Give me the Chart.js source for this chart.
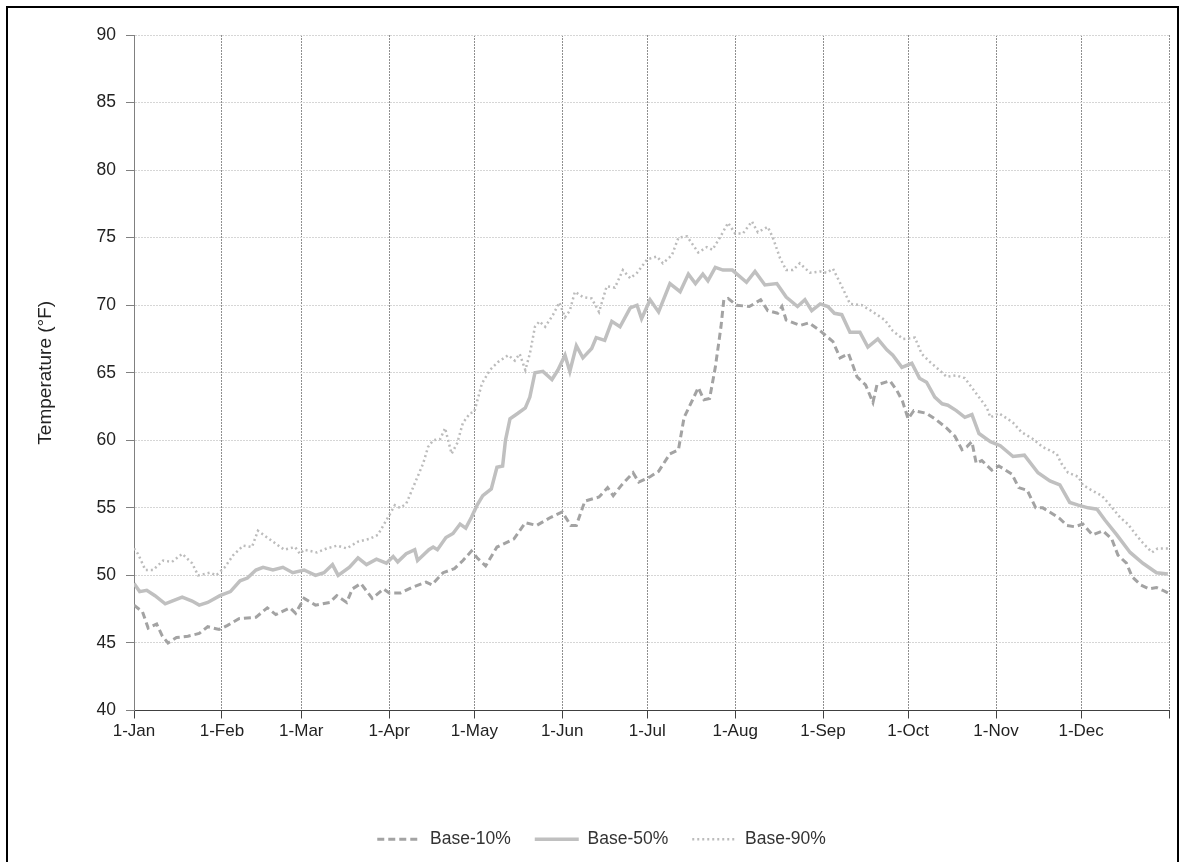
<!DOCTYPE html>
<html>
<head>
<meta charset="utf-8">
<script src="https://cdn.jsdelivr.net/npm/chart.js@4.4.1/dist/chart.umd.min.js"></script>
<style>
  html, body { margin: 0; padding: 0; background: #fff; }
  #wrap { position: relative; width: 1183px; height: 862px; overflow: hidden; }
  #frame { position: absolute; left: 6px; top: 6px; width: 1173px; height: 900px; border: 2px solid #000; box-sizing: border-box; pointer-events: none; }
  canvas { position: absolute; left: 0; top: 0; }
</style>
</head>
<body>
<div id="wrap">
  <canvas id="tempChart" width="1183" height="862"></canvas>
  <div id="frame"></div>
</div>
<script>
// month ticks (day of year)
var monthStarts = [0, 31, 59, 90, 120, 151, 181, 212, 243, 273, 304, 334, 365];
var monthLabels = ['1-Jan', '1-Feb', '1-Mar', '1-Apr', '1-May', '1-Jun', '1-Jul', '1-Aug', '1-Sep', '1-Oct', '1-Nov', '1-Dec', ''];

// Base-10% (dashed)
var base10Days = [0, 3, 5, 8, 10, 12, 15, 19, 23, 26, 30, 33, 37, 43, 47, 50, 55, 57, 60, 64,
    69, 71.5, 75, 77, 80, 84, 88, 90, 94, 98, 103, 105, 109, 113, 116, 119, 121, 124, 128, 134,
    138, 142, 147, 151, 154, 156, 159, 164, 167, 169, 172, 176, 178, 182, 185, 189, 192, 194, 197, 199,
    201, 203, 205, 207, 208, 209.5, 212.5, 217, 221, 223.5, 227, 228.5, 230, 235, 238, 242, 246.5, 249, 252, 255,
    258, 260.6, 262, 266.6, 269, 271, 273, 275, 279.5, 283, 286.6, 289.5, 292, 293.6, 295.5, 297, 299, 302.5, 305, 309.6,
    312, 315, 318, 320.5, 323.6, 326.5, 329, 331.8, 334.6, 338, 341.7, 344.8, 347, 350, 352, 355, 358, 360.6, 362.8, 364.6];
var base10Temps = [47.8, 47.3, 46.1, 46.4, 45.5, 45.0, 45.4, 45.5, 45.7, 46.2, 46.0, 46.3, 46.8, 46.9, 47.6, 47.1, 47.6, 47.2, 48.3, 47.8,
    48.0, 48.5, 48.0, 49.0, 49.4, 48.3, 49.0, 48.7, 48.7, 49.1, 49.5, 49.3, 50.2, 50.5, 51.1, 51.8, 51.3, 50.7, 52.1, 52.7,
    53.9, 53.7, 54.3, 54.7, 53.7, 53.7, 55.5, 55.8, 56.5, 55.9, 56.7, 57.6, 56.9, 57.3, 57.7, 59.0, 59.3, 61.7, 63.0, 63.9,
    63.0, 63.1, 65.4, 68.4, 70.4, 70.5, 70.0, 69.9, 70.4, 69.6, 69.4, 69.9, 68.9, 68.5, 68.7, 68.1, 67.3, 66.1, 66.4, 64.7,
    64.1, 62.8, 64.1, 64.4, 63.7, 62.9, 61.6, 62.2, 62.0, 61.5, 60.9, 60.3, 59.3, 59.5, 59.9, 58.3, 58.5, 57.8, 58.1, 57.5,
    56.5, 56.3, 55.0, 55.0, 54.6, 54.2, 53.7, 53.6, 53.8, 53.0, 53.3, 52.7, 51.5, 50.9, 49.9, 49.3, 49.0, 49.1, 48.9, 48.7];

// Base-50% (solid)
var base50Days = [0, 2, 4.5, 7.4, 11, 13.4, 17, 20.5, 23, 26, 30.3, 34, 37.4, 40, 43, 45.5, 49, 52.5, 56, 60,
    64, 67, 70, 72, 76, 79, 82, 85.5, 89, 91.4, 93, 96, 99, 100, 104, 105.5, 107, 110, 112.5, 115,
    117, 119, 121, 123, 126, 128, 130, 131, 132.6, 135.4, 138, 139.6, 141.4, 144.2, 147.4, 149.5, 152, 153.7, 156, 158.3,
    161.4, 163, 166, 168.5, 171.4, 175, 177.4, 179, 182, 185, 189, 192.6, 195.5, 198, 200.6, 202.4, 205, 207.7, 211, 216,
    219, 222.5, 226.7, 230, 234, 236.6, 239, 242, 244.7, 247, 249.6, 252.5, 256, 258.8, 262.3, 265.5, 267.6, 270.8, 274.3, 277,
    279.5, 282.4, 285, 287, 290, 293, 295.5, 298, 302, 305.5, 310, 314, 318.8, 323, 326.5, 330, 333, 336.5, 339.6, 342.4,
    346.6, 351.3, 355.8, 360.6, 364.6];
var base50Temps = [49.4, 48.8, 48.9, 48.5, 47.9, 48.1, 48.4, 48.1, 47.8, 48.0, 48.5, 48.8, 49.6, 49.8, 50.4, 50.6, 50.4, 50.6, 50.2, 50.4,
    50.0, 50.2, 50.8, 50.0, 50.6, 51.3, 50.8, 51.2, 50.9, 51.4, 51.0, 51.6, 51.9, 51.1, 51.9, 52.1, 51.9, 52.8, 53.1, 53.8,
    53.5, 54.3, 55.2, 55.9, 56.4, 58.0, 58.1, 60.0, 61.6, 62.0, 62.4, 63.2, 65.0, 65.1, 64.5, 65.2, 66.3, 65.1, 67.0, 66.1,
    66.8, 67.6, 67.4, 68.8, 68.4, 69.8, 70.0, 69.0, 70.4, 69.5, 71.6, 71.0, 72.3, 71.6, 72.3, 71.8, 72.8, 72.6, 72.6, 71.7,
    72.5, 71.5, 71.6, 70.6, 69.9, 70.4, 69.6, 70.1, 69.9, 69.4, 69.3, 68.0, 68.0, 66.9, 67.5, 66.7, 66.3, 65.4, 65.7, 64.6,
    64.3, 63.2, 62.7, 62.6, 62.2, 61.7, 61.9, 60.5, 59.9, 59.6, 58.8, 58.9, 57.6, 57.0, 56.7, 55.4, 55.2, 55.0, 54.9, 54.1,
    53.0, 51.7, 50.9, 50.2, 50.1];

// Base-90% (dotted)
var base90Days = [0, 1.4, 4, 6.7, 10.3, 13.4, 17, 20.5, 22.6, 26.8, 29, 32, 35, 38.5, 41.6, 43.7, 47, 50.3, 53, 56.8,
    58.5, 60, 64.5, 68, 71.6, 75, 79, 83, 86, 89.6, 92, 93.8, 96, 99, 102, 103.7, 105.5, 108, 109.7, 112,
    114, 116, 118.5, 120, 122.7, 125.5, 128.4, 132, 134.3, 136, 138, 139.6, 141.4, 143, 145, 147.8, 150, 152, 153.7, 155.5,
    158.3, 161.4, 164, 166.7, 169.6, 172.4, 175, 177.4, 181, 184.4, 186.5, 189.7, 192, 195, 199, 202, 204, 206.6, 209.5, 212,
    214.7, 217.9, 220, 223.5, 225.3, 227.8, 230, 232.4, 234.8, 238.4, 242, 244.3, 246.5, 249.6, 252.5, 256.7, 260.6, 264.8, 267.6, 271.2,
    275.4, 277.8, 280.7, 284, 286.6, 290, 293, 295.5, 297.6, 300.8, 302, 305, 308, 310, 313, 317, 320.5, 325.4, 327, 329.4,
    333, 334.6, 337.7, 341.3, 343.4, 345, 347.7, 350.5, 353, 355.8, 359, 361, 364.6];
var base90Temps = [52.0, 51.6, 50.4, 50.4, 51.1, 51.0, 51.6, 50.9, 50.0, 50.2, 50.0, 50.6, 51.5, 52.2, 52.1, 53.3, 52.8, 52.3, 51.9, 52.1,
    51.6, 51.9, 51.7, 52.0, 52.2, 52.0, 52.5, 52.7, 53.0, 54.3, 55.2, 55.0, 55.3, 56.8, 58.3, 59.5, 60.0, 60.1, 60.9, 59.0,
    59.8, 61.3, 62.0, 62.1, 64.2, 65.2, 65.8, 66.3, 65.9, 66.4, 65.2, 66.4, 68.4, 68.8, 68.4, 69.3, 70.2, 69.1, 69.6, 71.0,
    70.6, 70.5, 69.5, 71.4, 71.3, 72.6, 72.0, 72.4, 73.4, 73.6, 73.1, 73.7, 75.0, 75.1, 73.9, 74.3, 74.1, 75.0, 76.1, 75.3,
    75.3, 76.2, 75.4, 75.8, 75.0, 73.5, 72.6, 72.6, 73.1, 72.4, 72.5, 72.4, 72.7, 71.4, 70.1, 70.0, 69.5, 68.9, 68.1, 67.5,
    67.6, 66.4, 65.8, 65.2, 64.7, 64.8, 64.6, 63.9, 63.3, 62.4, 61.7, 62.0, 61.6, 61.3, 60.6, 60.1, 59.5, 59.0, 58.3, 57.6,
    57.3, 56.7, 56.3, 55.9, 55.4, 55.0, 54.3, 53.8, 53.1, 52.4, 51.7, 52.0, 52.0];

function toPoints(days, temps) {
    var pts = [];
    for (var i = 0; i < days.length; i++) {
        pts.push({ x: days[i], y: temps[i] });
    }
    return pts;
}

Chart.defaults.font.family = "'Liberation Sans', Arial, sans-serif";
Chart.defaults.color = '#222';

var dataFirst = {
    label: 'Base-10%',
    data: toPoints(base10Days, base10Temps),
    borderColor: '#a3a3a3',
    backgroundColor: '#a3a3a3',
    borderWidth: 3,
    borderDash: [7, 4],
    pointRadius: 0,
    fill: false,
    tension: 0
};
var dataSecond = {
    label: 'Base-50%',
    data: toPoints(base50Days, base50Temps),
    borderColor: '#c0c0c0',
    backgroundColor: '#c0c0c0',
    borderWidth: 3.5,
    pointRadius: 0,
    fill: false,
    tension: 0
};
var dataThird = {
    label: 'Base-90%',
    data: toPoints(base90Days, base90Temps),
    borderColor: '#bcbcbc',
    backgroundColor: '#bcbcbc',
    borderWidth: 2.5,
    borderDash: [2, 3],
    pointRadius: 0,
    fill: false,
    tension: 0
};

// legend samples keep the dataset's dash pattern
function legendLabels(chart) {
    var items = Chart.defaults.plugins.legend.labels.generateLabels(chart);
    items.forEach(function(item) {
        var ds = chart.data.datasets[item.datasetIndex];
        item.lineDash = ds.borderDash || [];
        item.lineWidth = ds.borderWidth;
        item.strokeStyle = ds.borderColor;
        item.lineCap = 'butt';
    });
    return items;
}

var chartOptions = {
    responsive: false,
    animation: false,
    layout: { padding: { left: 34, top: 35, right: 14, bottom: 4 } },
    plugins: {
        legend: {
            position: 'bottom',
            labels: {
                usePointStyle: true,
                pointStyle: 'line',
                pointStyleWidth: 44,
                padding: 24,
                color: '#333',
                font: { size: 17.5 },
                generateLabels: legendLabels
            }
        },
        tooltip: { enabled: false }
    },
    scales: {
        x: {
            type: 'linear',
            min: 0,
            max: 365,
            afterBuildTicks: function(scale) {
                scale.ticks = monthStarts.map(function(v) { return { value: v }; });
            },
            afterFit: function(scale) { scale.height = 96; },
            ticks: {
                autoSkip: false,
                maxRotation: 0,
                padding: 3,
                color: '#222',
                font: { size: 17 },
                callback: function(value, index) { return monthLabels[index]; }
            },
            grid: { color: '#8f8f8f', tickColor: '#404040', tickLength: 8 },
            border: { color: '#404040', dash: [2, 1] }
        },
        y: {
            min: 40,
            max: 90,
            afterFit: function(scale) { scale.width = 100; },
            ticks: { stepSize: 5, padding: 10, color: '#222', font: { size: 17.5 } },
            grid: { color: '#d6d6d6', tickColor: '#808080', tickLength: 8 },
            border: { color: '#808080', dash: [2, 1] },
            title: {
                display: true,
                text: 'Temperature (°F)',
                color: '#222',
                font: { size: 19 },
                padding: { top: 0, bottom: 0 }
            }
        }
    }
};

var lineChart = new Chart(document.getElementById('tempChart'), {
    type: 'line',
    data: { datasets: [dataFirst, dataSecond, dataThird] },
    options: chartOptions
});
</script>
</body>
</html>
